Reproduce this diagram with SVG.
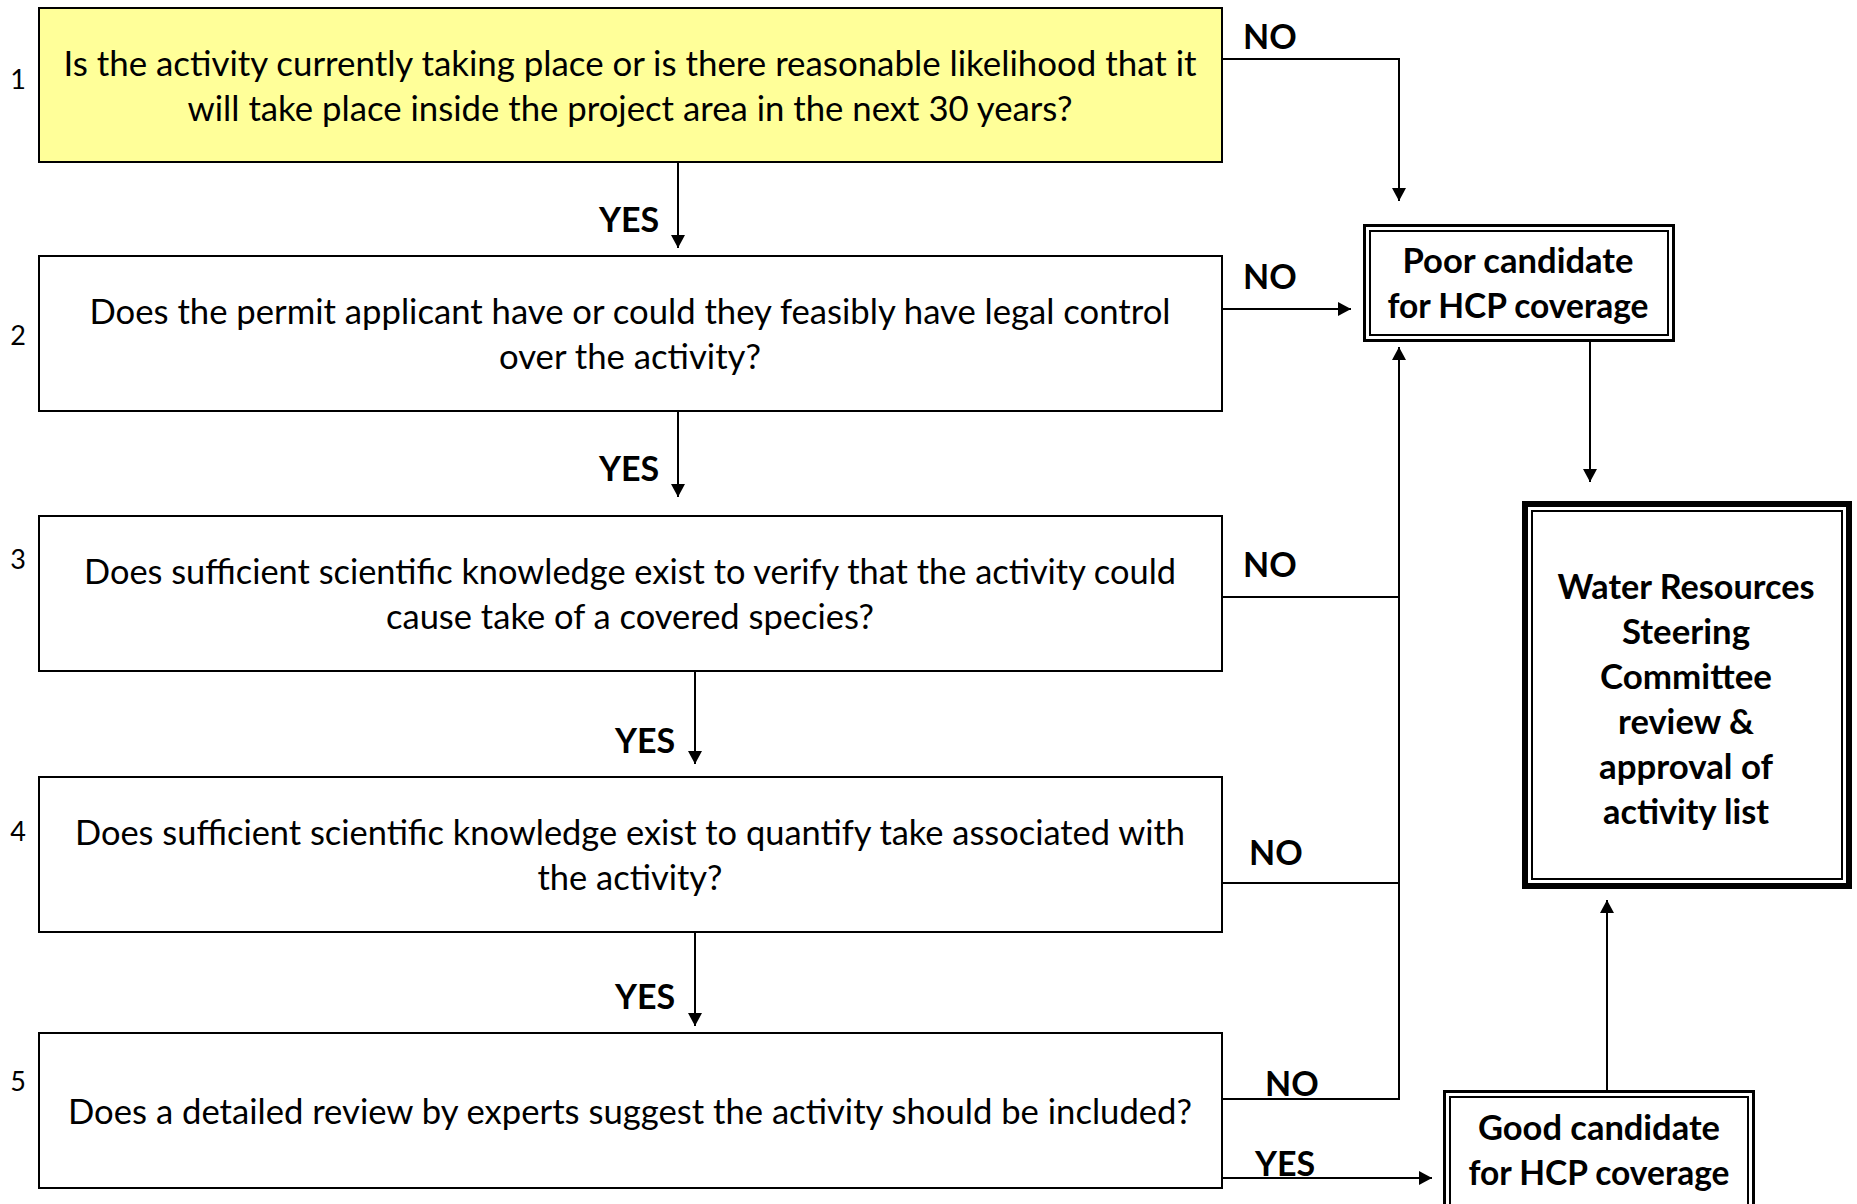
<svg xmlns="http://www.w3.org/2000/svg" width="1857" height="1204" viewBox="0 0 1857 1204">
<style>
.q{font-family:Lato,"Open Sans","Liberation Sans",sans-serif;font-size:34px;fill:#000;text-anchor:middle}
.b{font-family:Lato,"Open Sans","Liberation Sans",sans-serif;font-size:34px;font-weight:bold;fill:#000}
.m{text-anchor:middle}
.n{font-family:Lato,"Open Sans","Liberation Sans",sans-serif;font-size:27px;fill:#000;text-anchor:middle}
.box{fill:#fff;stroke:#000;stroke-width:2}
.c{fill:none;stroke:#000;stroke-width:2}
</style>
<defs>
<marker id="ah" markerUnits="userSpaceOnUse" markerWidth="14" markerHeight="14" refX="13" refY="7" orient="auto">
<path d="M0,0 L13,7 L0,14 z" fill="#000"/>
</marker>
</defs>
<rect width="1857" height="1204" fill="#fff"/>

<g id="connectors">
<path class="c" d="M678,162 V248" marker-end="url(#ah)"/>
<path class="c" d="M678,411 V497" marker-end="url(#ah)"/>
<path class="c" d="M695,671 V764" marker-end="url(#ah)"/>
<path class="c" d="M695,932 V1026" marker-end="url(#ah)"/>
<path class="c" d="M1222,59 H1399 V201" marker-end="url(#ah)"/>
<path class="c" d="M1222,309 H1351" marker-end="url(#ah)"/>
<path class="c" d="M1222,597 H1399"/>
<path class="c" d="M1222,883 H1399"/>
<path class="c" d="M1222,1099 H1399 V347" marker-end="url(#ah)"/>
<path class="c" d="M1222,1178 H1432" marker-end="url(#ah)"/>
<path class="c" d="M1590,341 V482" marker-end="url(#ah)"/>
<path class="c" d="M1607,1091 V900" marker-end="url(#ah)"/>
<text class="b m" x="629" y="232">YES</text>
<text class="b m" x="629" y="481">YES</text>
<text class="b m" x="645" y="753">YES</text>
<text class="b m" x="645" y="1009">YES</text>
<text class="b m" x="1285" y="1176">YES</text>
<text class="b" x="1243" y="49">NO</text>
<text class="b" x="1243" y="289">NO</text>
<text class="b" x="1243" y="577">NO</text>
<text class="b" x="1249" y="865">NO</text>
<text class="b" x="1265" y="1096">NO</text>
</g>

<g id="q1">
<rect x="39" y="8" width="1183" height="154" fill="#ffff99" stroke="#000" stroke-width="2"/>
<text class="n" x="18" y="89">1</text>
<text class="q" x="630" y="76" textLength="1133" lengthAdjust="spacingAndGlyphs">Is the activity currently taking place or is there reasonable likelihood that it</text>
<text class="q" x="630" y="121" textLength="885" lengthAdjust="spacingAndGlyphs">will take place inside the project area in the next 30 years?</text>
</g>

<g id="q2">
<rect class="box" x="39" y="256" width="1183" height="155"/>
<text class="n" x="18" y="345">2</text>
<text class="q" x="630" y="324" textLength="1081" lengthAdjust="spacingAndGlyphs">Does the permit applicant have or could they feasibly have legal control</text>
<text class="q" x="630" y="369" textLength="262" lengthAdjust="spacingAndGlyphs">over the activity?</text>
</g>

<g id="q3">
<rect class="box" x="39" y="516" width="1183" height="155"/>
<text class="n" x="18" y="569">3</text>
<text class="q" x="630" y="584" textLength="1092" lengthAdjust="spacingAndGlyphs">Does sufficient scientific knowledge exist to verify that the activity could</text>
<text class="q" x="630" y="629" textLength="488" lengthAdjust="spacingAndGlyphs">cause take of a covered species?</text>
</g>

<g id="q4">
<rect class="box" x="39" y="777" width="1183" height="155"/>
<text class="n" x="18" y="841">4</text>
<text class="q" x="630" y="845" textLength="1110" lengthAdjust="spacingAndGlyphs">Does sufficient scientific knowledge exist to quantify take associated with</text>
<text class="q" x="630" y="890" textLength="185" lengthAdjust="spacingAndGlyphs">the activity?</text>
</g>

<g id="q5">
<rect class="box" x="39" y="1033" width="1183" height="155"/>
<text class="n" x="18" y="1091">5</text>
<text class="q" x="630" y="1124" textLength="1124" lengthAdjust="spacingAndGlyphs">Does a detailed review by experts suggest the activity should be included?</text>
</g>

<g id="poor">
<rect x="1364.5" y="225.5" width="309" height="115" fill="#fff" stroke="#000" stroke-width="3"/>
<rect x="1370" y="231" width="298" height="104" fill="none" stroke="#000" stroke-width="2"/>
<text class="b m" x="1518" y="273" textLength="231" lengthAdjust="spacingAndGlyphs">Poor candidate</text>
<text class="b m" x="1518" y="318" textLength="261" lengthAdjust="spacingAndGlyphs">for HCP coverage</text>
</g>

<g id="wrsc">
<rect x="1525" y="504" width="324" height="382" fill="#fff" stroke="#000" stroke-width="6"/>
<rect x="1532" y="511" width="310" height="368" fill="none" stroke="#000" stroke-width="2"/>
<text class="b m" x="1686" y="599" textLength="257" lengthAdjust="spacingAndGlyphs">Water Resources</text>
<text class="b m" x="1686" y="644" textLength="128" lengthAdjust="spacingAndGlyphs">Steering</text>
<text class="b m" x="1686" y="689" textLength="172" lengthAdjust="spacingAndGlyphs">Committee</text>
<text class="b m" x="1686" y="734" textLength="136" lengthAdjust="spacingAndGlyphs">review &amp;</text>
<text class="b m" x="1686" y="779" textLength="174" lengthAdjust="spacingAndGlyphs">approval of</text>
<text class="b m" x="1686" y="824" textLength="166" lengthAdjust="spacingAndGlyphs">activity list</text>
</g>

<g id="good">
<rect x="1444.5" y="1091.5" width="309" height="130" fill="#fff" stroke="#000" stroke-width="3"/>
<rect x="1450" y="1097" width="298" height="119" fill="none" stroke="#000" stroke-width="2"/>
<text class="b m" x="1599" y="1140" textLength="242" lengthAdjust="spacingAndGlyphs">Good candidate</text>
<text class="b m" x="1599" y="1185" textLength="261" lengthAdjust="spacingAndGlyphs">for HCP coverage</text>
</g>
</svg>
